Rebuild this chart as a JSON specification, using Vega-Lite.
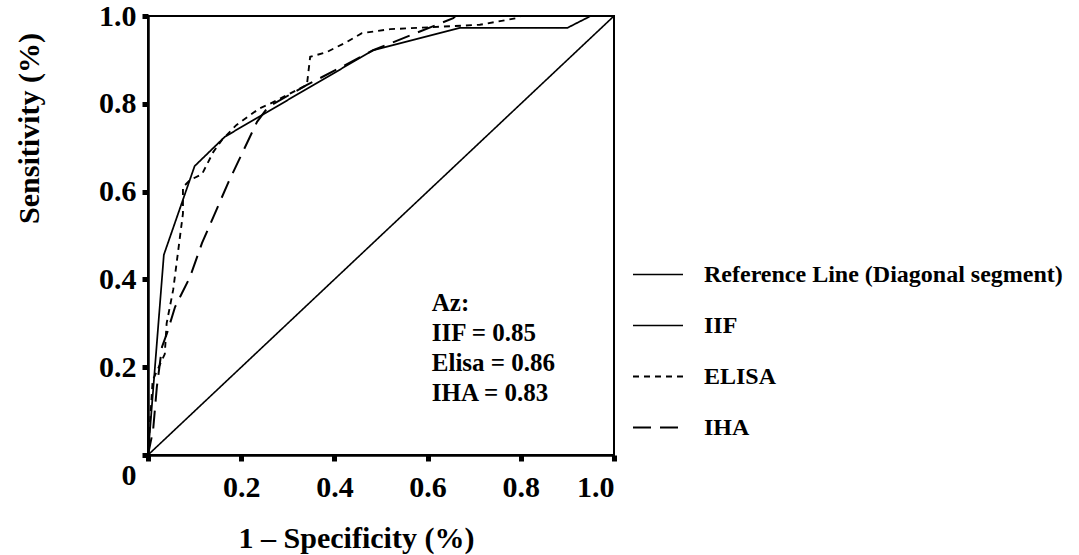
{
  "$schema": "https://vega.github.io/schema/vega-lite/v6.json",
  "width": 466,
  "height": 439,
  "autosize": {"type": "none"},
  "padding": {"left": 148, "top": 16, "right": 465, "bottom": 100},
  "background": "white",
  "config": {
    "view": {"stroke": "black", "strokeWidth": 2},
    "font": "Liberation Serif",
    "axis": {
      "grid": false,
      "domainColor": "black",
      "domainWidth": 2.5,
      "tickColor": "black",
      "tickSize": 6,
      "tickWidth": 5,
      "labelFont": "Liberation Serif",
      "labelFontWeight": "bold",
      "labelFontSize": 30,
      "labelColor": "black",
      "titleFont": "Liberation Serif",
      "titleFontWeight": "bold",
      "titleFontSize": 30,
      "titleColor": "black"
    }
  },
  "datasets": {
    "curves": [
      {"series": "Reference Line (Diagonal segment)", "x": 0, "y": 0, "k": 0},
      {"series": "Reference Line (Diagonal segment)", "x": 1, "y": 1, "k": 1},

      {"series": "IIF", "x": 0, "y": 0, "k": 0},
      {"series": "IIF", "x": 0.034, "y": 0.456, "k": 1},
      {"series": "IIF", "x": 0.10, "y": 0.658, "k": 2},
      {"series": "IIF", "x": 0.165, "y": 0.725, "k": 3},
      {"series": "IIF", "x": 0.483, "y": 0.922, "k": 4},
      {"series": "IIF", "x": 0.67, "y": 0.973, "k": 5},
      {"series": "IIF", "x": 0.90, "y": 0.973, "k": 6},
      {"series": "IIF", "x": 0.95, "y": 1.0, "k": 7},
      {"series": "IIF", "x": 1.0, "y": 1.0, "k": 8},

      {"series": "ELISA", "x": 0, "y": 0, "k": 0},
      {"series": "ELISA", "x": 0.01, "y": 0.17, "k": 1},
      {"series": "ELISA", "x": 0.036, "y": 0.23, "k": 2},
      {"series": "ELISA", "x": 0.04, "y": 0.30, "k": 3},
      {"series": "ELISA", "x": 0.054, "y": 0.376, "k": 4},
      {"series": "ELISA", "x": 0.075, "y": 0.55, "k": 5},
      {"series": "ELISA", "x": 0.075, "y": 0.61, "k": 6},
      {"series": "ELISA", "x": 0.09, "y": 0.626, "k": 7},
      {"series": "ELISA", "x": 0.116, "y": 0.64, "k": 8},
      {"series": "ELISA", "x": 0.14, "y": 0.69, "k": 9},
      {"series": "ELISA", "x": 0.159, "y": 0.718, "k": 10},
      {"series": "ELISA", "x": 0.19, "y": 0.752, "k": 11},
      {"series": "ELISA", "x": 0.24, "y": 0.79, "k": 12},
      {"series": "ELISA", "x": 0.262, "y": 0.80, "k": 13},
      {"series": "ELISA", "x": 0.341, "y": 0.843, "k": 14},
      {"series": "ELISA", "x": 0.348, "y": 0.907, "k": 15},
      {"series": "ELISA", "x": 0.384, "y": 0.918, "k": 16},
      {"series": "ELISA", "x": 0.427, "y": 0.941, "k": 17},
      {"series": "ELISA", "x": 0.459, "y": 0.961, "k": 18},
      {"series": "ELISA", "x": 0.52, "y": 0.97, "k": 19},
      {"series": "ELISA", "x": 0.712, "y": 0.98, "k": 20},
      {"series": "ELISA", "x": 0.79, "y": 0.995, "k": 21},
      {"series": "ELISA", "x": 0.80, "y": 1.0, "k": 22},
      {"series": "ELISA", "x": 1.0, "y": 1.0, "k": 23},

      {"series": "IHA", "x": 0, "y": 0, "k": 0},
      {"series": "IHA", "x": 0.011, "y": 0.057, "k": 1},
      {"series": "IHA", "x": 0.019, "y": 0.155, "k": 2},
      {"series": "IHA", "x": 0.03, "y": 0.246, "k": 3},
      {"series": "IHA", "x": 0.041, "y": 0.278, "k": 4},
      {"series": "IHA", "x": 0.058, "y": 0.337, "k": 5},
      {"series": "IHA", "x": 0.073, "y": 0.369, "k": 6},
      {"series": "IHA", "x": 0.09, "y": 0.405, "k": 7},
      {"series": "IHA", "x": 0.116, "y": 0.483, "k": 8},
      {"series": "IHA", "x": 0.172, "y": 0.62, "k": 9},
      {"series": "IHA", "x": 0.234, "y": 0.759, "k": 10},
      {"series": "IHA", "x": 0.258, "y": 0.793, "k": 11},
      {"series": "IHA", "x": 0.341, "y": 0.843, "k": 12},
      {"series": "IHA", "x": 0.412, "y": 0.882, "k": 13},
      {"series": "IHA", "x": 0.483, "y": 0.922, "k": 14},
      {"series": "IHA", "x": 0.655, "y": 0.995, "k": 15},
      {"series": "IHA", "x": 0.66, "y": 1.0, "k": 16},
      {"series": "IHA", "x": 1.0, "y": 1.0, "k": 17}
    ]
  },
  "layer": [
    {
      "data": {"name": "curves"},
      "mark": {"type": "line", "color": "black", "strokeCap": "butt", "clip": false},
      "encoding": {
        "x": {
          "field": "x", "type": "quantitative",
          "scale": {"domain": [0, 1], "nice": false, "zero": false},
          "axis": {
            "title": "1 – Specificity (%)",
            "values": [0, 0.2, 0.4, 0.6, 0.8, 1.0],
            "format": ".1f",
            "labelExpr": "datum.value == 0 ? '' : datum.label",
            "labelPadding": 11,
            "titleX": 208,
            "titleY": 92,
            "titleBaseline": "alphabetic",
            "titleAnchor": null
          }
        },
        "y": {
          "field": "y", "type": "quantitative",
          "scale": {"domain": [0, 1], "nice": false, "zero": false},
          "axis": {
            "title": "Sensitivity (%)",
            "values": [0, 0.2, 0.4, 0.6, 0.8, 1.0],
            "labelExpr": "datum.value == 0 ? '0' : format(datum.value, '.1f')",
            "labelPadding": 6,
            "labelOffset": {"condition": {"test": "datum.value == 0", "value": 20}, "value": 0},
            "titleAngle": -90,
            "titleX": -119,
            "titleY": 112,
            "titleAlign": "center",
            "titleBaseline": "middle"
          }
        },
        "order": {"field": "k", "type": "quantitative"},
        "strokeWidth": {
          "field": "series", "type": "nominal",
          "scale": {
            "domain": ["Reference Line (Diagonal segment)", "IIF", "ELISA", "IHA"],
            "range": [1.6, 2, 2, 2]
          },
          "legend": null
        },
        "strokeDash": {
          "field": "series", "type": "nominal",
          "scale": {
            "domain": ["Reference Line (Diagonal segment)", "IIF", "ELISA", "IHA"],
            "range": [[1, 0], [1, 0], [6, 5], [18, 9]]
          },
          "legend": {
            "title": null,
            "orient": "none",
            "legendX": 484,
            "legendY": 233,
            "symbolType": "stroke",
            "symbolSize": 2500,
            "symbolStrokeWidth": 1.8,
            "symbolStrokeColor": "black",
            "labelFont": "Liberation Serif",
            "labelFontWeight": "bold",
            "labelFontSize": 24,
            "labelColor": "black",
            "labelOffset": 20,
            "labelLimit": 600,
            "clipHeight": 51,
            "rowPadding": 0,
            "padding": 0
          }
        }
      }
    },
    {
      "data": {"values": [{}]},
      "mark": {
        "type": "text",
        "text": ["Az:", "IIF = 0.85", "Elisa = 0.86", "IHA = 0.83"],
        "font": "Liberation Serif",
        "fontWeight": "bold",
        "fontSize": 25,
        "lineHeight": 30,
        "align": "left",
        "baseline": "top",
        "color": "black"
      },
      "encoding": {
        "x": {"datum": 0.609},
        "y": {"datum": 0.374}
      }
    }
  ]
}
